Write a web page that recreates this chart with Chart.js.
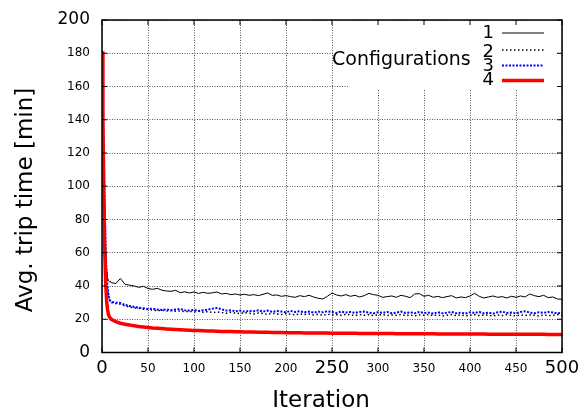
<!DOCTYPE html>
<html>
<head>
<meta charset="utf-8">
<script src="https://cdn.jsdelivr.net/npm/chart.js@4/dist/chart.umd.min.js"></script>
<style>
  body { margin: 0; background: #fff; }
  canvas { display: block; }
</style>
</head>
<body>
<canvas id="ChartTrips" width="579" height="414"></canvas>
<script>
const iterations = [
  0, 1, 2, 3, 4, 5, 6, 7, 8, 9,
  10, 15, 20, 25, 30, 35, 40, 45, 50, 55,
  60, 65, 70, 75, 80, 85, 90, 95, 100, 105,
  110, 115, 120, 125, 130, 135, 140, 145, 150, 155,
  160, 165, 170, 175, 180, 185, 190, 195, 200, 205,
  210, 215, 220, 225, 230, 235, 240, 245, 250, 255,
  260, 265, 270, 275, 280, 285, 290, 295, 300, 305,
  310, 315, 320, 325, 330, 335, 340, 345, 350, 355,
  360, 365, 370, 375, 380, 385, 390, 395, 400, 405,
  410, 415, 420, 425, 430, 435, 440, 445, 450, 455,
  460, 465, 470, 475, 480, 485, 490, 495, 500
];

const config1 = [
  181, 150, 112, 82, 62, 50, 45, 43, 42.5, 43,
  42, 41.5, 44.5, 41, 40.5, 40, 39.2, 39.8, 38.5, 38,
  38.6, 37.5, 37, 36.8, 37.4, 36, 36.5, 35.8, 36.4, 35.5,
  36.2, 35.6, 35.9, 36.4, 35.2, 35.6, 34.8, 35.2, 34.6, 35,
  34.4, 34.8, 34.2, 35, 35.8, 34.4, 34.6, 33.8, 34.2, 33.6,
  33.2, 34.2, 33.6, 34.4, 33.4, 32.6, 32.2, 33.8, 35.8, 34.6,
  34, 34.8, 33.8, 34.4, 33.4, 34.2, 35.6, 34.8, 34.4, 33.2,
  33.6, 34, 33.2, 34.4, 33.8, 33, 35.2, 35.4, 33.8, 34.4,
  33.2, 33.8, 33, 33.6, 34.2, 32.8, 33.4, 33, 34, 35.6,
  33.8, 32.8, 33.4, 34, 33.2, 33.6, 32.8, 33.8, 33.2, 34,
  33.4, 35.2, 34.2, 33.6, 34.4, 33, 33.4, 32.2, 32
];

const config2 = [
  181, 148, 110, 80, 58, 45, 38, 34, 32, 30.5,
  30, 29.4, 29, 28, 27.4, 26.8, 26.6, 26, 25.8, 25.6,
  25.2, 25.4, 25, 25.2, 24.8, 25, 24.6, 24.8, 24.4, 24.8,
  24.2, 24.6, 24, 24.4, 24, 23.6, 24.2, 23.8, 23.4, 24,
  23.6, 23.2, 23.8, 23.4, 23, 23.6, 23.2, 22.8, 23.4, 23,
  22.6, 23.2, 22.8, 23.2, 22.6, 23, 22.4, 23, 22.6, 22.8,
  22.4, 23, 22.6, 22.2, 22.8, 22.4, 22.8, 22.2, 22.6, 22.8,
  22.2, 22.6, 22.4, 22.8, 22.2, 22.6, 22, 22.6, 22.4, 22.8,
  22.2, 22.6, 22, 22.4, 22.8, 22.2, 22.6, 22, 22.4, 22.8,
  22.2, 22.6, 22.4, 22, 22.6, 22.2, 22.8, 22.4, 22, 22.6,
  22.2, 22.6, 22.4, 22, 22.6, 22.2, 22.4, 22.8, 22.2
];

const config3 = [
  181, 150, 115, 85, 62, 48, 40, 35, 32.5, 31,
  30.5, 30, 29.8, 28.6, 28, 27.4, 27, 26.6, 26.2, 26.4,
  25.8, 25.6, 26, 25.4, 25.8, 26.2, 25.4, 25.2, 25.6, 25,
  25.4, 25.8, 26.4, 26.8, 26, 25.2, 25.4, 24.8, 25.2, 24.6,
  25, 24.8, 25.4, 24.6, 25.2, 24.4, 25, 24.6, 24.2, 25,
  24.4, 24.8, 24.2, 24.6, 24, 24.6, 24.2, 24.8, 24.4, 23.8,
  24.6, 24, 24.4, 23.8, 24.4, 24.6, 24, 23.6, 24.2, 23.8,
  24.4, 23.6, 24, 24.6, 23.8, 24.2, 23.6, 24.4, 23.8, 24,
  23.4, 24.2, 23.6, 24, 24.4, 23.6, 24, 23.4, 24.2, 23.8,
  24.4, 23.6, 24, 23.4, 24.2, 24.6, 23.8, 24, 23.6, 24.4,
  24.8, 24, 23.6, 24.2, 23.8, 24.4, 24, 23.6, 24
];

const config4 = [
  181, 140, 96, 62, 42, 31, 26, 23, 21.5, 20.6,
  20, 18.6, 17.6, 17, 16.5, 16.1, 15.7, 15.4, 15.1, 14.8,
  14.6, 14.4, 14.2, 14, 13.85, 13.7, 13.55, 13.4, 13.3, 13.2,
  13.1, 13, 12.9, 12.8, 12.7, 12.65, 12.6, 12.5, 12.45, 12.4,
  12.35, 12.3, 12.25, 12.2, 12.15, 12.1, 12.05, 12, 11.95, 11.9,
  11.85, 11.85, 11.8, 11.8, 11.75, 11.75, 11.7, 11.7, 11.65, 11.65,
  11.6, 11.6, 11.55, 11.55, 11.5, 11.5, 11.5, 11.45, 11.45, 11.4,
  11.4, 11.4, 11.35, 11.35, 11.35, 11.3, 11.3, 11.3, 11.25, 11.25,
  11.25, 11.2, 11.2, 11.2, 11.15, 11.15, 11.15, 11.15, 11.1, 11.1,
  11.1, 11.1, 11.05, 11.05, 11.05, 11.05, 11, 11, 11, 11,
  11, 10.95, 10.95, 10.95, 10.95, 10.9, 10.9, 10.9, 10.9
];

const configNames = ['1', '2', '3', '4'];
const legendTitle = 'Configurations';
const xTitle = 'Iteration';
const yTitle = 'Avg. trip time [min]';
const bigXTicks = [0, 250, 500];
const bigYTicks = [0, 200];

const FONT = '"DejaVu Sans", sans-serif';
Chart.defaults.color = '#000';
Chart.defaults.font.family = FONT;

const toPoints = (values) => iterations.map((it, i) => ({ x: it, y: values[i] }));

const styles = [
  { color: '#000000', width: 1, dash: [] },
  { color: '#000000', width: 1.5, dash: [1.5, 2.5] },
  { color: '#0000ff', width: 2, dash: [2, 1.5] },
  { color: '#ff0000', width: 3.5, dash: [] }
];
const seriesList = [config1, config2, config3, config4];

const datasets = seriesList.map((values, i) => ({
  label: configNames[i],
  data: toPoints(values),
  borderColor: styles[i].color,
  borderWidth: styles[i].width,
  borderDash: styles[i].dash,
  pointRadius: 0,
  tension: 0,
  fill: false,
  order: 3 - i
}));

const framePlugin = {
  id: 'frame',
  beforeDatasetsDraw(chart) {
    const ctx = chart.ctx;
    ctx.save();
    ctx.fillStyle = '#fff';
    ctx.fillRect(334, 21, 223, 49);
    ctx.fillRect(349, 21, 208, 68);
    ctx.restore();
  },
  afterDraw(chart) {
    const { ctx, chartArea: a, scales: { x, y } } = chart;
    ctx.save();

    // legend
    ctx.fillStyle = '#000';
    ctx.font = '19px ' + FONT;
    ctx.textAlign = 'left';
    ctx.textBaseline = 'alphabetic';
    ctx.fillText(legendTitle, 332, 65);

    const textY = [33, 52, 66, 80];
    const lineY = [33, 50, 65.5, 80.5];
    ctx.font = '18px ' + FONT;
    ctx.textAlign = 'right';
    ctx.textBaseline = 'middle';
    configNames.forEach((name, i) => {
      ctx.fillStyle = '#000';
      ctx.fillText(name, 494, textY[i]);
      ctx.beginPath();
      ctx.strokeStyle = styles[i].color;
      ctx.lineWidth = styles[i].width;
      ctx.setLineDash(styles[i].dash);
      ctx.moveTo(502, lineY[i]);
      ctx.lineTo(544, lineY[i]);
      ctx.stroke();
    });
    ctx.setLineDash([]);

    // frame and inward ticks
    ctx.strokeStyle = '#000';
    ctx.lineWidth = 1.5;
    ctx.strokeRect(a.left, a.top, a.right - a.left, a.bottom - a.top);
    ctx.lineWidth = 1;
    ctx.beginPath();
    x.ticks.forEach(t => {
      const px = x.getPixelForValue(t.value);
      ctx.moveTo(px, a.bottom); ctx.lineTo(px, a.bottom - 5);
      ctx.moveTo(px, a.top); ctx.lineTo(px, a.top + 5);
    });
    y.ticks.forEach(t => {
      const py = y.getPixelForValue(t.value);
      ctx.moveTo(a.left, py); ctx.lineTo(a.left + 5, py);
      ctx.moveTo(a.right, py); ctx.lineTo(a.right - 5, py);
    });
    ctx.stroke();

    // axis titles
    ctx.fillStyle = '#000';
    ctx.font = '23px ' + FONT;
    ctx.textAlign = 'center';
    ctx.textBaseline = 'alphabetic';
    ctx.fillText(xTitle, 321, 407);
    ctx.translate(32, 200);
    ctx.rotate(-Math.PI / 2);
    ctx.fillText(yTitle, 0, 0);

    ctx.restore();
  }
};

const ctx = document.getElementById('ChartTrips').getContext('2d');

const chartTrips = new Chart(ctx, {
  type: 'line',
  data: { datasets: datasets },
  options: {
    responsive: false,
    animation: false,
    layout: { padding: { top: 20, right: 17, left: 0, bottom: 0 } },
    plugins: {
      legend: { display: false },
      tooltip: { enabled: false }
    },
    scales: {
      x: {
        type: 'linear',
        min: 0,
        max: 500,
        ticks: {
          stepSize: 50,
          padding: 6,
          maxRotation: 0,
          autoSkip: false,
          font: (c) => ({
            size: bigXTicks.includes(c.tick && c.tick.value) ? 18 : 12,
            lineHeight: '20px'
          })
        },
        grid: { color: '#555555', lineWidth: 1, drawTicks: false },
        border: { display: false, dash: [1, 1.5] },
        afterFit: (s) => { s.height = 61.5; s.paddingLeft = 0; s.paddingRight = 0; }
      },
      y: {
        min: 0,
        max: 200,
        ticks: {
          stepSize: 20,
          padding: 12,
          font: (c) => ({
            size: bigYTicks.includes(c.tick && c.tick.value) ? 17 : 12
          })
        },
        grid: { color: '#555555', lineWidth: 1, drawTicks: false },
        border: { display: false, dash: [1, 1.5] },
        afterFit: (s) => { s.width = 102; s.paddingTop = 0; s.paddingBottom = 0; }
      }
    }
  },
  plugins: [framePlugin]
});
</script>
</body>
</html>
